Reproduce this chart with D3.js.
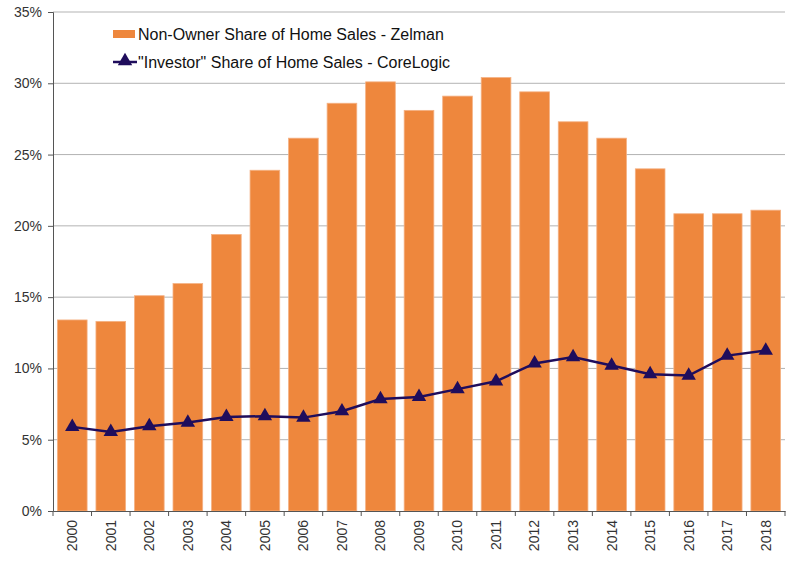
<!DOCTYPE html>
<html>
<head>
<meta charset="utf-8">
<script src="https://cdn.jsdelivr.net/npm/d3@7"></script>
<style>
  body { margin: 0; background: #fff; }
  text { font-family: "Liberation Sans", Arial, sans-serif; }
</style>
</head>
<body>
<div id="chart"></div>
<script>
const years = ["2000","2001","2002","2003","2004","2005","2006","2007","2008","2009",
               "2010","2011","2012","2013","2014","2015","2016","2017","2018"];
const zelman = [13.4, 13.3, 15.1, 15.95, 19.4, 23.9, 26.15, 28.6, 30.1, 28.1,
                29.1, 30.4, 29.4, 27.3, 26.15, 24.0, 20.85, 20.85, 21.1];
const corelogic = [5.9, 5.55, 5.95, 6.2, 6.6, 6.65, 6.55, 7.0, 7.85, 8.0,
                   8.55, 9.1, 10.35, 10.8, 10.2, 9.6, 9.5, 10.9, 11.25];
const yTicks = [0, 5, 10, 15, 20, 25, 30, 35];
const legendLabels = ["Non-Owner Share of Home Sales - Zelman", "\"Investor\" Share of Home Sales - CoreLogic"];

const width = 800, height = 583;
const margin = {top: 12, right: 15, bottom: 72, left: 53};
const barColor = "#ee873d";
const lineColor = "#1f0d5c";

const svg = d3.select("#chart").append("svg")
    .attr("width", width)
    .attr("height", height);

const x = d3.scaleBand()
    .domain(years)
    .range([margin.left, width - margin.right])
    .paddingInner(0.23)
    .paddingOuter(0.115);

const y = d3.scaleLinear()
    .domain([0, 35])
    .range([height - margin.bottom, margin.top]);

// gridlines
svg.append("g")
  .selectAll("line")
  .data(yTicks.slice(1))
  .join("line")
    .attr("x1", margin.left)
    .attr("x2", width - margin.right)
    .attr("y1", d => y(d))
    .attr("y2", d => y(d))
    .attr("stroke", "#b3b3b3")
    .attr("stroke-width", 1);

// bars
svg.append("g")
  .selectAll("rect")
  .data(zelman)
  .join("rect")
    .attr("x", (d, i) => x(years[i]))
    .attr("y", d => y(d))
    .attr("width", x.bandwidth())
    .attr("height", d => y(0) - y(d))
    .attr("fill", barColor)
    .attr("stroke", "#f4b183")
    .attr("stroke-width", 0.8);

// y axis
const yAxis = svg.append("g")
    .attr("transform", `translate(${margin.left},0)`)
    .call(d3.axisLeft(y).tickValues(yTicks).tickSize(5).tickFormat(d => d + "%"));
yAxis.select(".domain").attr("stroke", "#555");
yAxis.selectAll(".tick line").attr("stroke", "#555");
yAxis.selectAll(".tick text")
    .attr("font-size", 14)
    .attr("fill", "#333")
    .attr("x", -11);

// x axis
const xAxis = svg.append("g")
    .attr("transform", `translate(0,${y(0)})`)
    .call(d3.axisBottom(x).tickSize(0).tickSizeOuter(0));
xAxis.select(".domain").attr("stroke", "#555").attr("stroke-width", 1.2);
xAxis.selectAll(".tick text")
    .attr("font-size", 14)
    .attr("fill", "#333")
    .attr("transform", "rotate(-90)")
    .attr("text-anchor", "end")
    .attr("x", -9)
    .attr("y", 0)
    .attr("dy", "0.35em");
// ticks between categories
const step = x.step();
svg.append("g")
  .selectAll("line")
  .data(d3.range(years.length + 1))
  .join("line")
    .attr("x1", i => margin.left + i * step)
    .attr("x2", i => margin.left + i * step)
    .attr("y1", y(0))
    .attr("y2", y(0) + 5)
    .attr("stroke", "#555");

// line
const line = d3.line()
    .x((d, i) => x(years[i]) + x.bandwidth() / 2)
    .y(d => y(d));
svg.append("path")
    .datum(corelogic)
    .attr("fill", "none")
    .attr("stroke", lineColor)
    .attr("stroke-width", 2.5)
    .attr("d", line);

const tri = d3.symbol().type(d3.symbolTriangle).size(90);
svg.append("g")
  .selectAll("path")
  .data(corelogic)
  .join("path")
    .attr("transform", (d, i) => `translate(${x(years[i]) + x.bandwidth() / 2},${y(d)})`)
    .attr("d", tri)
    .attr("fill", lineColor);

// legend
const legend = svg.append("g").attr("transform", "translate(113,0)");
legend.append("rect")
    .attr("x", 0).attr("y", 30)
    .attr("width", 22).attr("height", 8)
    .attr("fill", barColor);
legend.append("text")
    .attr("x", 25).attr("y", 40)
    .attr("font-size", 16)
    .attr("fill", "#111")
    .text(legendLabels[0]);
legend.append("line")
    .attr("x1", 0).attr("x2", 24)
    .attr("y1", 62).attr("y2", 62)
    .attr("stroke", lineColor).attr("stroke-width", 2.5);
legend.append("path")
    .attr("transform", "translate(12,61)")
    .attr("d", tri)
    .attr("fill", lineColor);
legend.append("text")
    .attr("x", 25).attr("y", 68)
    .attr("font-size", 16)
    .attr("fill", "#111")
    .text(legendLabels[1]);
</script>
</body>
</html>
